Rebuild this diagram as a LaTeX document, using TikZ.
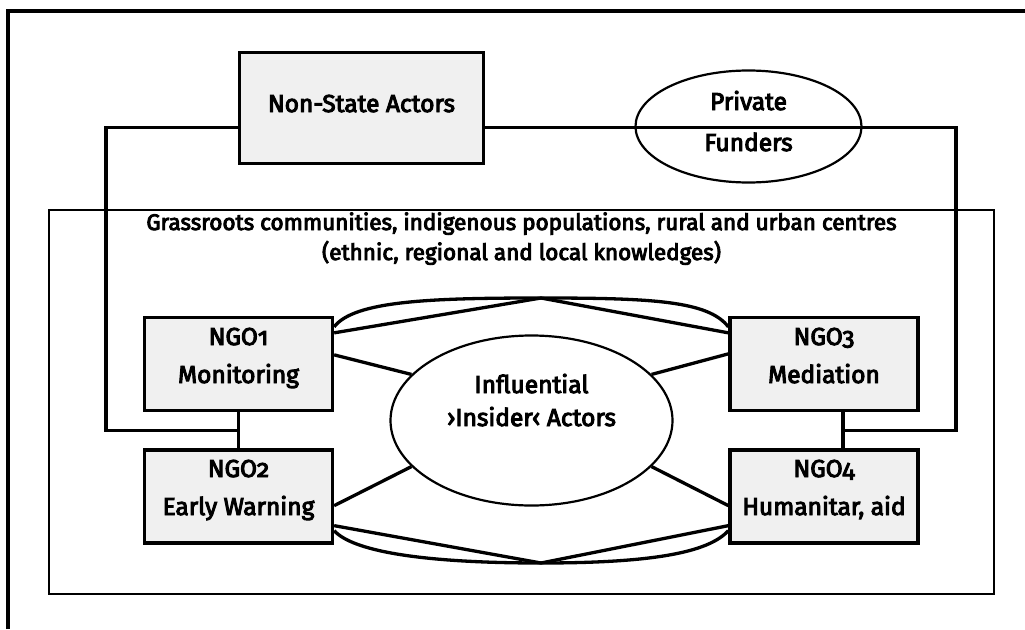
\documentclass[tikz,border=0pt]{standalone}
\usepackage{fontspec}
\setmainfont{Fira Sans}[Numbers=OldStyle, UprightFeatures={FakeBold=4}]
\usetikzlibrary{shapes.geometric,calc}
\definecolor{boxfill}{HTML}{F0F0F0}
\begin{document}
\begin{tikzpicture}[x=1pt,y=-1pt,
  actorbox/.style={draw, line width=3.3pt, fill=boxfill, inner sep=0pt},
  oval/.style={ellipse, draw, line width=2.2pt, inner sep=0pt},
  link/.style={line width=3.3pt},
  frame/.style={line width=3.8pt},
  area/.style={line width=2.2pt},
  big/.style={font=\fontsize{24.5}{28}\selectfont, inner sep=0pt, anchor=base},
  small/.style={font=\fontsize{22.5}{26}\selectfont, inner sep=0pt, anchor=base}]
\useasboundingbox (0,0) rectangle (1025,629);

% outer frame (left and top edges)
\draw[frame] (8,629) -- (8,11) -- (1025,11);

% community area
\draw[area] (49,210) rectangle (994,594);
\node[small] (g1) at (521.5,230) {Grassroots communities, indigenous populations, rural and urban centres};
\node[small] (g2) at (521.5,260) {(ethnic, regional and local knowledges)};

% actors
\node[actorbox, minimum width=244pt, minimum height=111pt] (nsa) at (361.5,108) {};
\node[big] (nsat) at (361.5,112) {Non-State Actors};

\node[oval, minimum width=226pt, minimum height=112pt] (pf) at (748.5,126.5) {};
\node[big] (pf1) at (748.5,110) {Private};
\node[big] (pf2) at (748.5,151) {Funders};

\node[actorbox, minimum width=188pt, minimum height=93pt] (ngo1) at (238.5,364) {};
\node[actorbox, minimum width=188pt, minimum height=93pt] (ngo2) at (238.5,496.5) {};
\node[actorbox, minimum width=188pt, minimum height=93pt] (ngo3) at (824,364) {};
\node[actorbox, minimum width=188pt, minimum height=93pt] (ngo4) at (824,496.5) {};
\node[big] (n1a) at (238.5,345) {NGO1};
\node[big] (n1b) at (238.5,383) {Monitoring};
\node[big] (n2a) at (238.5,477) {NGO2};
\node[big] (n2b) at (238.5,515) {Early Warning};
\node[big] (n3a) at (824,345) {NGO3};
\node[big] (n3b) at (824,383) {Mediation};
\node[big] (n4a) at (824,477) {NGO4};
\node[big] (n4b) at (824,515) {Humanitar, aid};

\node[oval, minimum width=282pt, minimum height=170pt] (ins) at (531.5,420.5) {};
\node[big] (ins1) at (531.5,393) {Influential};
\node[big] (ins2) at (531.5,426) {›Insider‹ Actors};

% junctions and apexes
\coordinate (ttop) at (541,298);
\coordinate (tbot) at (541,563);
\coordinate (jl) at ($(ngo1.south)!0.5!(ngo2.north)$);
\coordinate (jr) at ([xshift=19pt]$(ngo3.south)!0.5!(ngo4.north)$);
\coordinate (lx) at (106,0);
\coordinate (rx) at (956,0);

% vertical links between NGO pairs
\draw[link] (ngo1.south) -- (ngo2.north);
\draw[link] (ngo3.south -| jr) -- (ngo4.north -| jr);

% links from the non-state actors
\draw[link] ([yshift=38pt]nsa.south west) coordinate (nl)
  -- (nl -| lx) |- (jl);
\draw[link] ([yshift=38pt]nsa.south east) coordinate (nr)
  -- (nr -| rx) |- (jr);

% spokes to the insider actors
\draw[link] ([yshift=-39pt]ngo1.north east) -- (ins.159);
\draw[link] ([yshift=39pt]ngo2.south east) -- (ins.201);
\draw[link] ([yshift=-38pt]ngo3.north west) -- (ins.21);
\draw[link] ([yshift=39pt]ngo4.south west) -- (ins.339);

% upper network
\draw[link] ([yshift=-17pt]ngo1.north east) -- (ttop) -- ([yshift=-17pt]ngo3.north west);
\draw[link] ([yshift=-11pt]ngo1.north east) .. controls +(20,-26) and +(-111,0) .. (ttop)
  .. controls +(111,0) and +(-20,-26) .. ([yshift=-11pt]ngo3.north west);

% lower network
\draw[link] ([yshift=19pt]ngo2.south east) -- (tbot) -- ([yshift=19pt]ngo4.south west);
\draw[link] ([yshift=14pt]ngo2.south east) .. controls +(20,22) and +(-111,0) .. (tbot)
  .. controls +(111,0) and +(-20,22) .. ([yshift=14pt]ngo4.south west);
\end{tikzpicture}
\end{document}
